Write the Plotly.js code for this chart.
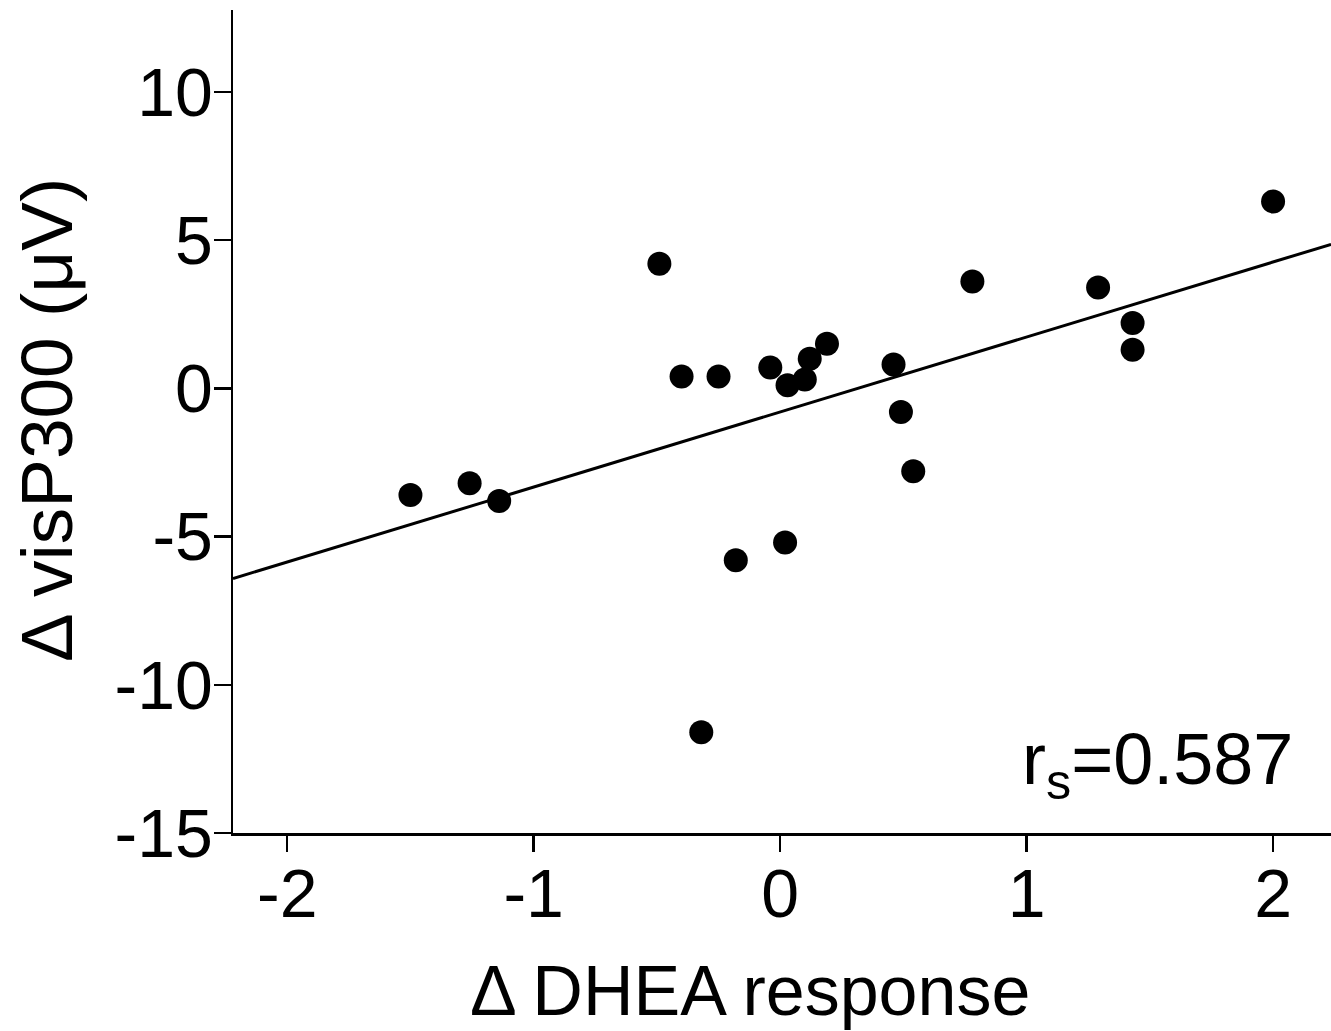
<!DOCTYPE html>
<html>
<head>
<meta charset="utf-8">
<script src="https://cdn.plot.ly/plotly-3.0.1.min.js"></script>
<style>html,body{margin:0;padding:0;background:#fff;}#chart{width:1331px;height:1031px;}</style>
</head>
<body>
<div id="chart"></div>
<script>
// Data
const dheaChange = [-1.50, -1.26, -1.14, -0.49, -0.40, -0.25, -0.32, -0.18, -0.04, 0.02, 0.03, 0.10, 0.12, 0.19, 0.46, 0.49, 0.54, 0.78, 1.29, 1.43, 1.43, 2.00];
const p300Change = [-3.6, -3.2, -3.8, 4.2, 0.4, 0.4, -11.6, -5.8, 0.7, -5.2, 0.1, 0.3, 1.0, 1.5, 0.8, -0.8, -2.8, 3.6, 3.4, 2.2, 1.3, 6.3];
const fitSlope = 2.53;
const fitIntercept = -0.80;
const xTickVals = [-2, -1, 0, 1, 2];
const xTickText = ['-2', '-1', '0', '1', '2'];
const yTickVals = [-15, -10, -5, 0, 5, 10];
const yTickText = ['-15', '-10', '-5', '0', '5', '10'];
const xRange = [-2.22, 2.235];
const yRange = [-15, 12.76];
const xTitle = 'Δ DHEA response';
const yTitle = 'Δ visP300 (μV)';
const statText = 'r<sub>s</sub>=0.587';

const fitX = xRange.slice();
const fitY = fitX.map(v => fitSlope * v + fitIntercept);

const font = 'Liberation Sans, Arial, sans-serif';

const traces = [
  {x: fitX, y: fitY, mode: 'lines', type: 'scatter', line: {color: '#000', width: 3}, hoverinfo: 'skip', xaxis: 'x', yaxis: 'y'},
  {x: dheaChange, y: p300Change, mode: 'markers', type: 'scatter', marker: {color: '#000', size: 24}, cliponaxis: false, xaxis: 'x2', yaxis: 'y2'}
];

const labelAxis = (range, vals, text, len) => ({
  range: range, tickvals: vals, ticktext: text,
  showgrid: false, zeroline: false, showline: true, linecolor: '#000', linewidth: 2.5,
  ticks: 'outside', ticklen: len, tickwidth: 1, tickcolor: 'rgba(0,0,0,0)',
  tickfont: {size: 68, family: font, color: '#000'}
});
const tickAxis = (range, vals, overlay) => ({
  range: range, tickvals: vals, overlaying: overlay,
  showgrid: false, zeroline: false, showline: false, showticklabels: false,
  ticks: 'outside', ticklen: 18, tickwidth: 2.5, tickcolor: '#000'
});

const layout = {
  width: 1331, height: 1031,
  margin: {l: 233, r: 0, t: 10, b: 198},
  paper_bgcolor: '#fff', plot_bgcolor: '#fff',
  showlegend: false,
  font: {family: font, color: '#000'},
  xaxis: labelAxis(xRange, xTickVals, xTickText, 0),
  yaxis: labelAxis(yRange, yTickVals, yTickText, 4),
  xaxis2: Object.assign(tickAxis(xRange, xTickVals, 'x'), {anchor: 'y2', side: 'bottom'}),
  yaxis2: Object.assign(tickAxis(yRange, yTickVals, 'y'), {anchor: 'x2', side: 'left'}),
  annotations: [
    {
      text: statText, xref: 'x', yref: 'y', x: 2.09, y: -12.7,
      xanchor: 'right', yanchor: 'middle', showarrow: false,
      font: {size: 72, family: font, color: '#000'}
    },
    {
      text: xTitle, xref: 'paper', yref: 'paper', x: 0.4709, y: -0.1920,
      xanchor: 'center', yanchor: 'middle', showarrow: false,
      font: {size: 70, family: font, color: '#000'}
    },
    {
      text: yTitle, xref: 'paper', yref: 'paper', x: -0.1703, y: 0.5018, textangle: -90,
      xanchor: 'center', yanchor: 'middle', showarrow: false,
      font: {size: 73, family: font, color: '#000'}
    }
  ]
};

Plotly.newPlot('chart', traces, layout, {staticPlot: true, displayModeBar: false});
</script>
</body>
</html>
